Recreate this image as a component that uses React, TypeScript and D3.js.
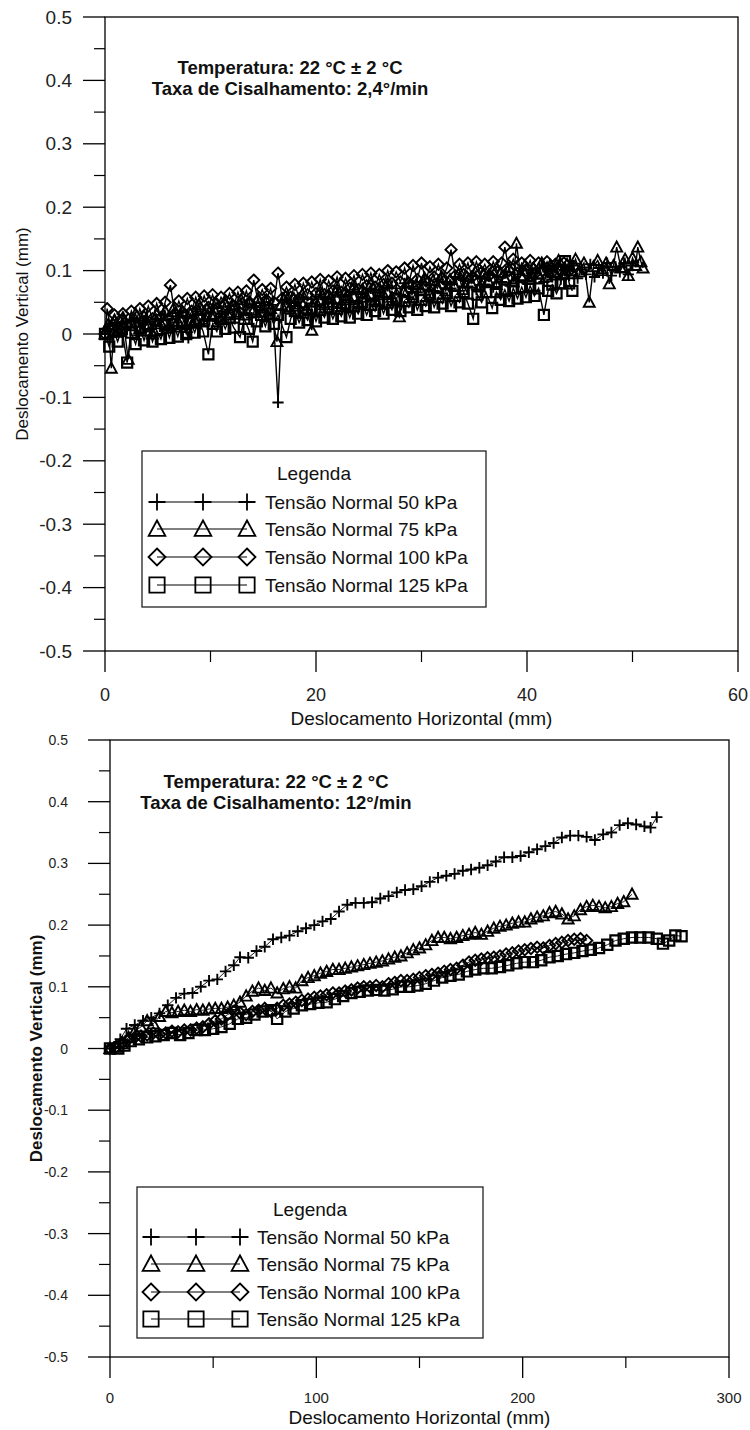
import React from "react";
import * as d3 from "d3";

type Pt = [number, number];

const seriesNames = [
  "Tensão Normal 50 kPa",
  "Tensão Normal 75 kPa",
  "Tensão Normal 100 kPa",
  "Tensão Normal 125 kPa",
];
const markerKinds = ["plus", "triangle", "diamond", "square"];
const legendTitle = "Legenda";
const yTickValues = [0.5, 0.4, 0.3, 0.2, 0.1, 0, -0.1, -0.2, -0.3, -0.4, -0.5];
const yTickLabels = ["0.5", "0.4", "0.3", "0.2", "0.1", "0", "-0.1", "-0.2", "-0.3", "-0.4", "-0.5"];
const topXTicks = [0, 20, 40, 60];
const botXTicks = [0, 100, 200, 300];
const xTitle = "Deslocamento Horizontal (mm)";
const yTitle = "Deslocamento Vertical (mm)";
const topNote = ["Temperatura: 22 °C ± 2 °C", "Taxa de Cisalhamento: 2,4°/min"];
const botNote = ["Temperatura: 22 °C ± 2 °C", "Taxa de Cisalhamento: 12°/min"];

// ---------- Top chart (2,4°/min) ----------
const top50: Pt[] = [
  [0, 0], [0.4, 0.012], [0.8, -0.004], [1.2, 0.018], [1.6, 0.003], [2.0, 0.02], [2.4, 0.006], [2.8, 0.022], [3.2, -0.002], [3.6, 0.015],
  [4.0, 0.026], [4.4, 0.008], [4.8, 0.024], [5.2, 0.012], [5.6, 0.03], [6.0, 0.01], [6.4, 0.028], [6.8, 0.018], [7.2, 0.034], [7.6, 0.012],
  [7.9, -0.006], [8.3, 0.026], [8.7, 0.036], [9.1, 0.016], [9.5, 0.032], [9.9, 0.022], [10.3, 0.04], [10.7, 0.02], [11.1, 0.036], [11.5, 0.026],
  [11.9, 0.044], [12.3, 0.024], [12.7, 0.04], [13.1, 0.03], [13.5, 0.046], [13.9, 0.026], [14.3, 0.042], [14.7, 0.034], [15.1, 0.05], [15.5, 0.03],
  [15.9, 0.046], [16.4, -0.108], [16.8, 0.038], [17.2, 0.054], [17.6, 0.036], [18.0, 0.05], [18.4, 0.04], [18.8, 0.058], [19.2, 0.038], [19.6, 0.055],
  [20.0, 0.044], [20.4, 0.062], [20.8, 0.042], [21.2, 0.058], [21.6, 0.048], [22.0, 0.066], [22.4, 0.046], [22.8, 0.062], [23.2, 0.05], [23.6, 0.07],
  [24.0, 0.048], [24.4, 0.066], [24.8, 0.056], [25.2, 0.072], [25.6, 0.052], [26.0, 0.07], [26.4, 0.058], [26.8, 0.076], [27.2, 0.056], [27.6, 0.072],
  [28.0, 0.062], [28.4, 0.08], [28.8, 0.058], [29.2, 0.075], [29.6, 0.066], [30.0, 0.082], [30.4, 0.062], [30.8, 0.078], [31.2, 0.068], [31.6, 0.086],
  [32.0, 0.064], [32.4, 0.082], [32.8, 0.072], [33.2, 0.09], [33.6, 0.068], [34.0, 0.085], [34.4, 0.075], [34.8, 0.092], [35.2, 0.07], [35.6, 0.088],
  [36.0, 0.078], [36.4, 0.095], [36.8, 0.074], [37.2, 0.09], [37.6, 0.082], [38.0, 0.098], [38.4, 0.076], [38.8, 0.094], [39.2, 0.084], [39.6, 0.1],
  [40.0, 0.08], [40.4, 0.096], [40.8, 0.088], [41.2, 0.104], [41.6, 0.082], [42.0, 0.098], [42.4, 0.09], [42.8, 0.106], [43.2, 0.086], [43.6, 0.1],
  [44.0, 0.092], [44.4, 0.108], [44.8, 0.088], [45.2, 0.102], [45.6, 0.094], [46.0, 0.11], [46.4, 0.09], [46.8, 0.104], [47.2, 0.096], [47.6, 0.112],
  [48.0, 0.092], [48.4, 0.106], [48.8, 0.098], [49.2, 0.112], [49.6, 0.094], [50.0, 0.108],
];
const top75: Pt[] = [
  [0, 0], [0.3, 0.015], [0.6, -0.054], [0.9, 0.022], [1.3, 0.004], [1.7, 0.026], [2.2, -0.04], [2.5, 0.018], [2.9, 0.032], [3.3, 0.008],
  [3.7, 0.028], [4.1, 0.014], [4.5, 0.0], [4.9, 0.03], [5.3, 0.016], [5.7, 0.036], [6.1, 0.012], [6.5, 0.04], [6.9, 0.02], [7.3, 0.036],
  [7.7, 0.01], [8.1, 0.032], [8.5, 0.022], [8.9, 0.046], [9.3, 0.02], [9.7, 0.04], [10.1, 0.028], [10.5, 0.048], [10.9, 0.024], [11.3, 0.05],
  [11.7, 0.03], [12.1, 0.046], [12.5, 0.034], [12.9, 0.054], [13.3, 0.03], [13.7, 0.05], [14.1, 0.038], [14.5, 0.056], [14.9, 0.034], [15.3, 0.052],
  [15.7, 0.04], [16.3, -0.012], [16.7, 0.046], [17.1, 0.06], [17.5, 0.04], [17.9, 0.056], [18.3, 0.044], [18.7, 0.062], [19.1, 0.04], [19.6, 0.006],
  [20.0, 0.05], [20.4, 0.066], [20.8, 0.046], [21.2, 0.062], [21.6, 0.05], [22.0, 0.07], [22.4, 0.048], [22.8, 0.066], [23.2, 0.054], [23.6, 0.074],
  [24.0, 0.05], [24.4, 0.07], [24.8, 0.058], [25.2, 0.078], [25.6, 0.054], [26.0, 0.072], [26.4, 0.062], [26.8, 0.08], [27.2, 0.058], [27.9, 0.027],
  [28.3, 0.066], [28.7, 0.082], [29.1, 0.062], [29.5, 0.078], [29.9, 0.068], [30.3, 0.088], [30.7, 0.064], [31.1, 0.084], [31.5, 0.072], [31.9, 0.09],
  [32.3, 0.068], [32.7, 0.086], [33.1, 0.076], [33.5, 0.094], [33.9, 0.07], [34.3, 0.09], [34.7, 0.08], [35.1, 0.098], [35.5, 0.074], [35.9, 0.094],
  [36.3, 0.084], [36.7, 0.1], [37.1, 0.078], [37.5, 0.096], [37.9, 0.088], [38.3, 0.104], [38.7, 0.082], [39.0, 0.143], [39.4, 0.092], [39.8, 0.108],
  [40.2, 0.086], [40.6, 0.104], [41.0, 0.094], [41.4, 0.112], [41.8, 0.09], [42.2, 0.108], [42.6, 0.098], [43.0, 0.116], [43.4, 0.094], [43.8, 0.11],
  [44.2, 0.1], [44.6, 0.118], [45.0, 0.098], [45.4, 0.112], [45.9, 0.05], [46.3, 0.106], [46.7, 0.116], [47.1, 0.1], [47.5, 0.112], [47.8, 0.079],
  [48.2, 0.108], [48.5, 0.137], [48.9, 0.104], [49.3, 0.118], [49.6, 0.092], [50.0, 0.12], [50.3, 0.108], [50.5, 0.137], [50.8, 0.114], [51.0, 0.104],
];
const top100: Pt[] = [
  [0, 0], [0.2, 0.04], [0.5, 0.012], [0.9, 0.03], [1.3, 0.008], [1.7, 0.032], [2.1, 0.014], [2.5, 0.036], [2.9, 0.016], [3.3, 0.04],
  [3.7, 0.02], [4.1, 0.044], [4.5, 0.024], [4.9, 0.048], [5.3, 0.026], [5.7, 0.05], [6.2, 0.077], [6.6, 0.032], [7.0, 0.052], [7.4, 0.034],
  [7.8, 0.056], [8.2, 0.036], [8.6, 0.058], [9.0, 0.04], [9.4, 0.06], [9.8, 0.042], [10.2, 0.062], [10.6, 0.04], [11.0, 0.058], [11.4, 0.046],
  [11.8, 0.064], [12.2, 0.044], [12.6, 0.066], [13.0, 0.048], [13.4, 0.068], [13.7, 0.05], [14.1, 0.085], [14.5, 0.052], [14.9, 0.07], [15.3, 0.054],
  [15.7, 0.072], [16.0, 0.05], [16.4, 0.096], [16.8, 0.056], [17.2, 0.074], [17.6, 0.058], [18.0, 0.078], [18.4, 0.056], [18.8, 0.08], [19.2, 0.062],
  [19.6, 0.082], [20.0, 0.064], [20.4, 0.086], [20.8, 0.062], [21.2, 0.084], [21.6, 0.068], [22.0, 0.09], [22.4, 0.066], [22.8, 0.088], [23.2, 0.072],
  [23.6, 0.092], [24.0, 0.07], [24.4, 0.094], [24.8, 0.076], [25.2, 0.096], [25.6, 0.074], [26.0, 0.094], [26.4, 0.078], [26.8, 0.1], [27.2, 0.08],
  [27.6, 0.098], [28.0, 0.082], [28.4, 0.104], [28.8, 0.08], [29.2, 0.108], [29.6, 0.086], [30.0, 0.112], [30.4, 0.084], [30.8, 0.106], [31.2, 0.09],
  [31.6, 0.11], [32.0, 0.088], [32.4, 0.104], [32.8, 0.133], [33.2, 0.092], [33.6, 0.11], [34.0, 0.094], [34.4, 0.112], [34.8, 0.09], [35.2, 0.114],
  [35.6, 0.096], [36.0, 0.11], [36.4, 0.092], [36.8, 0.114], [37.2, 0.098], [37.6, 0.112], [37.9, 0.137], [38.3, 0.1], [38.7, 0.118], [39.1, 0.096],
  [39.5, 0.112], [39.9, 0.1], [40.3, 0.116], [40.7, 0.094], [41.1, 0.112], [41.5, 0.1], [41.9, 0.114], [42.3, 0.096], [42.7, 0.11], [43.1, 0.1],
  [43.5, 0.112], [43.9, 0.098], [44.4, 0.106],
];
const top125: Pt[] = [
  [0, 0], [0.4, -0.02], [0.8, 0.006], [1.2, -0.012], [1.6, 0.008], [2.1, -0.045], [2.5, 0.002], [2.9, -0.016], [3.3, 0.01], [3.7, -0.01],
  [4.1, 0.012], [4.5, -0.012], [4.9, 0.006], [5.3, -0.008], [5.7, 0.014], [6.1, -0.006], [6.5, 0.016], [6.9, -0.004], [7.3, 0.018], [7.7, 0.0],
  [8.1, 0.02], [8.5, 0.002], [8.9, 0.022], [9.3, 0.004], [9.8, -0.032], [10.2, 0.016], [10.6, 0.004], [11.0, 0.024], [11.4, 0.008], [11.8, 0.026],
  [12.2, 0.01], [12.8, -0.005], [13.2, 0.024], [13.6, 0.008], [14.0, -0.012], [14.4, 0.02], [14.8, 0.03], [15.2, 0.012], [15.6, 0.032], [16.0, 0.016],
  [16.4, 0.03], [17.2, -0.005], [17.6, 0.024], [18.0, 0.036], [18.4, 0.018], [18.8, 0.034], [19.2, 0.022], [19.6, 0.04], [20.0, 0.02], [20.4, 0.038],
  [20.8, 0.026], [21.2, 0.042], [21.6, 0.024], [22.0, 0.04], [22.4, 0.028], [22.8, 0.046], [23.2, 0.026], [23.6, 0.044], [24.0, 0.032], [24.4, 0.05],
  [24.8, 0.03], [25.2, 0.046], [25.6, 0.036], [26.0, 0.052], [26.4, 0.032], [26.8, 0.05], [27.2, 0.038], [27.6, 0.056], [28.0, 0.036], [28.4, 0.052],
  [28.8, 0.042], [29.2, 0.058], [29.6, 0.038], [30.0, 0.054], [30.4, 0.044], [30.8, 0.062], [31.2, 0.042], [31.6, 0.058], [32.0, 0.048], [32.4, 0.064],
  [32.8, 0.044], [33.2, 0.06], [33.6, 0.05], [34.0, 0.066], [34.4, 0.048], [34.9, 0.024], [35.3, 0.062], [35.7, 0.05], [36.1, 0.066], [36.7, 0.041],
  [37.1, 0.066], [37.5, 0.054], [37.9, 0.07], [38.3, 0.052], [38.7, 0.072], [39.1, 0.056], [39.5, 0.074], [39.9, 0.058], [40.3, 0.076], [40.7, 0.06],
  [41.1, 0.072], [41.6, 0.03], [42.0, 0.068], [42.4, 0.078], [42.8, 0.064], [43.2, 0.08], [43.6, 0.115], [44.0, 0.08], [44.3, 0.068],
];

// ---------- Bottom chart (12°/min) ----------
const bot50: Pt[] = [
  [0, 0], [2, 0.003], [5, 0.015], [8, 0.032], [12, 0.038], [16, 0.045], [20, 0.05], [24, 0.057], [28, 0.07],
  [32, 0.082], [36, 0.089], [40, 0.09], [44, 0.1], [48, 0.11], [52, 0.112], [56, 0.125], [60, 0.135], [63, 0.148],
  [67, 0.147], [71, 0.158], [75, 0.165], [79, 0.177], [83, 0.18], [87, 0.183], [91, 0.19], [95, 0.195], [99, 0.2],
  [103, 0.206], [107, 0.21], [111, 0.222], [115, 0.233], [119, 0.236], [123, 0.236], [127, 0.237], [131, 0.243],
  [135, 0.247], [139, 0.253], [143, 0.257], [147, 0.258], [151, 0.263], [155, 0.27], [159, 0.277], [163, 0.28],
  [167, 0.283], [171, 0.288], [175, 0.29], [179, 0.293], [183, 0.297], [187, 0.303], [191, 0.31], [195, 0.31],
  [199, 0.312], [203, 0.318], [207, 0.323], [211, 0.328], [215, 0.333], [219, 0.342], [223, 0.345], [227, 0.345],
  [231, 0.343], [235, 0.338], [239, 0.347], [243, 0.35], [247, 0.362], [251, 0.365], [255, 0.363], [259, 0.36],
  [262, 0.358], [265, 0.375],
];
const bot75: Pt[] = [
  [0, 0], [3, 0.002], [6, 0.008], [9, 0.018], [12, 0.028], [15, 0.035], [18, 0.045], [21, 0.04], [24, 0.052],
  [27, 0.06], [30, 0.058], [33, 0.06], [36, 0.062], [39, 0.06], [42, 0.063], [45, 0.062], [48, 0.064], [51, 0.065],
  [54, 0.065], [57, 0.067], [60, 0.07], [63, 0.075], [66, 0.085], [69, 0.093], [72, 0.098], [75, 0.094], [78, 0.098],
  [81, 0.09], [84, 0.097], [87, 0.1], [90, 0.098], [93, 0.11], [96, 0.115], [99, 0.118], [102, 0.122], [105, 0.125],
  [108, 0.128], [111, 0.128], [114, 0.13], [117, 0.132], [120, 0.134], [123, 0.136], [126, 0.138], [129, 0.14],
  [132, 0.142], [135, 0.145], [138, 0.148], [141, 0.15], [144, 0.155], [147, 0.16], [150, 0.163], [153, 0.168],
  [156, 0.175], [159, 0.18], [162, 0.18], [165, 0.178], [168, 0.18], [171, 0.183], [174, 0.185], [177, 0.188],
  [180, 0.185], [183, 0.19], [186, 0.195], [189, 0.198], [192, 0.2], [195, 0.203], [198, 0.205], [201, 0.205],
  [204, 0.21], [207, 0.213], [210, 0.215], [213, 0.22], [216, 0.222], [219, 0.218], [222, 0.21], [225, 0.215],
  [228, 0.225], [231, 0.23], [234, 0.232], [237, 0.23], [240, 0.228], [243, 0.23], [246, 0.235], [249, 0.238],
  [253, 0.25],
];
const bot100: Pt[] = [
  [0, 0], [3, 0.003], [6, 0.01], [9, 0.015], [12, 0.018], [15, 0.02], [18, 0.022], [21, 0.025], [24, 0.023],
  [27, 0.025], [30, 0.028], [33, 0.027], [36, 0.03], [39, 0.03], [42, 0.033], [45, 0.035], [48, 0.04], [51, 0.045],
  [54, 0.048], [57, 0.055], [60, 0.06], [63, 0.058], [66, 0.055], [69, 0.06], [72, 0.062], [75, 0.065], [78, 0.06],
  [81, 0.065], [84, 0.07], [87, 0.072], [90, 0.075], [93, 0.078], [96, 0.08], [99, 0.083], [102, 0.085], [105, 0.087],
  [108, 0.09], [111, 0.09], [114, 0.093], [117, 0.095], [120, 0.098], [123, 0.1], [126, 0.1], [129, 0.102],
  [132, 0.1], [135, 0.105], [138, 0.107], [141, 0.11], [144, 0.11], [147, 0.112], [150, 0.115], [153, 0.118],
  [156, 0.12], [159, 0.122], [162, 0.125], [165, 0.128], [168, 0.13], [171, 0.135], [174, 0.14], [177, 0.143],
  [180, 0.145], [183, 0.147], [186, 0.148], [189, 0.15], [192, 0.153], [195, 0.155], [198, 0.158], [201, 0.16],
  [204, 0.162], [207, 0.164], [210, 0.163], [213, 0.167], [216, 0.17], [219, 0.172], [222, 0.175], [225, 0.177],
  [228, 0.178], [231, 0.175],
];
const bot125: Pt[] = [
  [0, 0], [4, 0.0], [7, 0.005], [10, 0.012], [14, 0.015], [18, 0.018], [22, 0.02], [26, 0.022], [30, 0.025],
  [34, 0.022], [38, 0.025], [42, 0.03], [46, 0.03], [50, 0.032], [54, 0.035], [58, 0.04], [62, 0.048], [66, 0.05],
  [70, 0.055], [74, 0.06], [78, 0.062], [81, 0.048], [85, 0.06], [89, 0.065], [93, 0.07], [97, 0.072], [101, 0.074],
  [105, 0.075], [109, 0.08], [113, 0.085], [117, 0.09], [121, 0.092], [125, 0.094], [129, 0.095], [133, 0.094],
  [137, 0.096], [141, 0.1], [145, 0.1], [149, 0.102], [153, 0.105], [157, 0.11], [161, 0.115], [165, 0.118],
  [169, 0.12], [173, 0.125], [177, 0.128], [181, 0.13], [185, 0.13], [189, 0.132], [193, 0.135], [197, 0.138],
  [201, 0.14], [205, 0.14], [209, 0.143], [213, 0.148], [217, 0.15], [221, 0.153], [225, 0.155], [229, 0.158],
  [233, 0.16], [237, 0.163], [241, 0.168], [245, 0.175], [249, 0.178], [253, 0.18], [257, 0.18], [261, 0.18],
  [265, 0.178], [268, 0.17], [271, 0.175], [274, 0.183], [277, 0.182],
];

const topSeries = [top50, top75, top100, top125];
const botSeries = [bot50, bot75, bot100, bot125];

const SANS = "'Liberation Sans', Arial, Helvetica, sans-serif";
const NARROW = "'Liberation Sans Narrow', 'Arial Narrow', 'Liberation Sans', Arial, sans-serif";

function markerPath(kind: string, s: number): string {
  switch (kind) {
    case "plus":
      return `M${-s},0H${s}M0,${-s}V${s}`;
    case "triangle":
      return `M0,${-s}L${s * 0.98},${s * 0.8}L${-s * 0.98},${s * 0.8}Z`;
    case "diamond":
      return `M0,${-s}L${s},0L0,${s}L${-s},0Z`;
    default:
      return `M${-s * 0.9},${-s * 0.9}H${s * 0.9}V${s * 0.9}H${-s * 0.9}Z`;
  }
}

type PanelCfg = {
  left: number; right: number; top: number; bottom: number;
  xMax: number; xTicks: number[];
  xLabelFont: string; xLabelSize: number; xLabelY: number;
  xTitleY: number; xTitleSize: number;
  yLabelFont: string; yLabelSize: number; yLabelX: number;
  yTitleX: number; yTitleSize: number; yTitleWeight: string;
  note: string[]; noteX: number; noteY: number[]; noteSize: number;
  series: Pt[][]; mSize: number; mStroke: number; lineW: number;
  leg: { x0: number; x1: number; y0: number; y1: number; titleX: number; titleY: number; rows: number[]; sym: number[]; textX: number; size: number };
};

function Panel({ c }: { c: PanelCfg }) {
  const x = d3.scaleLinear().domain([0, c.xMax]).range([c.left, c.right]);
  const y = d3.scaleLinear().domain([-0.5, 0.5]).range([c.bottom, c.top]);
  const line = d3.line<Pt>().x((d) => x(d[0])).y((d) => y(d[1]));
  const xMinor = c.xTicks.slice(1).map((t, i) => (t + c.xTicks[i]) / 2);
  const yMinor = yTickValues.slice(1).map((t, i) => (t + yTickValues[i]) / 2);
  const midX = (c.left + c.right) / 2;
  const midY = (c.top + c.bottom) / 2;
  return (
    <g>
      <rect x={c.left} y={c.top} width={c.right - c.left} height={c.bottom - c.top} fill="none" stroke="#000" strokeWidth={1.3} />
      {yTickValues.map((t, i) => (
        <g key={"yt" + i}>
          <line x1={c.left - 22} x2={c.left} y1={y(t)} y2={y(t)} stroke="#000" strokeWidth={1.3} />
          <text x={c.yLabelX} y={y(t)} textAnchor="end" dominantBaseline="central" fontFamily={c.yLabelFont} fontSize={c.yLabelSize} fill="#222">
            {yTickLabels[i]}
          </text>
        </g>
      ))}
      {yMinor.map((t, i) => (
        <line key={"ym" + i} x1={c.left - 11} x2={c.left} y1={y(t)} y2={y(t)} stroke="#000" strokeWidth={1.2} />
      ))}
      {c.xTicks.map((t, i) => (
        <g key={"xt" + i}>
          <line x1={x(t)} x2={x(t)} y1={c.bottom} y2={c.bottom + 21} stroke="#000" strokeWidth={1.3} />
          <text x={x(t)} y={c.xLabelY} textAnchor="middle" dominantBaseline="central" fontFamily={c.xLabelFont} fontSize={c.xLabelSize} fill="#222">
            {String(t)}
          </text>
        </g>
      ))}
      {xMinor.map((t, i) => (
        <line key={"xm" + i} x1={x(t)} x2={x(t)} y1={c.bottom} y2={c.bottom + 11} stroke="#000" strokeWidth={1.2} />
      ))}
      <text x={midX} y={c.xTitleY} textAnchor="middle" dominantBaseline="central" fontFamily={SANS} fontSize={c.xTitleSize} fill="#111">
        {xTitle}
      </text>
      <text transform={`translate(${c.yTitleX},${midY}) rotate(-90)`} textAnchor="middle" dominantBaseline="central" fontFamily={SANS} fontSize={c.yTitleSize} fontWeight={c.yTitleWeight} fill="#111">
        {yTitle}
      </text>
      {c.note.map((s, i) => (
        <text key={"n" + i} x={c.noteX} y={c.noteY[i]} textAnchor="middle" fontFamily={SANS} fontSize={c.noteSize} fontWeight="bold" fill="#111">
          {s}
        </text>
      ))}
      {c.series.map((pts, si) => (
        <g key={"s" + si}>
          <path d={line(pts) || ""} fill="none" stroke="#000" strokeWidth={c.lineW} />
          {pts.map((p, pi) => (
            <path key={pi} d={markerPath(markerKinds[si], c.mSize)} transform={`translate(${x(p[0])},${y(p[1])})`} fill="none" stroke="#000" strokeWidth={markerKinds[si] === "square" ? c.mStroke + 0.3 : c.mStroke} />
          ))}
        </g>
      ))}
      <rect x={c.leg.x0} y={c.leg.y0} width={c.leg.x1 - c.leg.x0} height={c.leg.y1 - c.leg.y0} fill="#fff" stroke="#222" strokeWidth={1.3} />
      <text x={c.leg.titleX} y={c.leg.titleY} textAnchor="middle" dominantBaseline="central" fontFamily={SANS} fontSize={c.leg.size} fill="#111">
        {legendTitle}
      </text>
      {seriesNames.map((name, i) => (
        <g key={"l" + i}>
          <line x1={c.leg.sym[0]} x2={c.leg.sym[2]} y1={c.leg.rows[i]} y2={c.leg.rows[i]} stroke="#000" strokeWidth={1.1} />
          {c.leg.sym.map((sx, k) => (
            <path key={k} d={markerPath(markerKinds[i], 8.5)} transform={`translate(${sx},${c.leg.rows[i]})`} fill="none" stroke="#000" strokeWidth={1.8} />
          ))}
          <text x={c.leg.textX} y={c.leg.rows[i]} dominantBaseline="central" fontFamily={SANS} fontSize={c.leg.size} fill="#111">
            {name}
          </text>
        </g>
      ))}
    </g>
  );
}

const topCfg: PanelCfg = {
  left: 105, right: 738, top: 17, bottom: 651,
  xMax: 60, xTicks: topXTicks,
  xLabelFont: SANS, xLabelSize: 18, xLabelY: 695,
  xTitleY: 718, xTitleSize: 19,
  yLabelFont: SANS, yLabelSize: 19, yLabelX: 72,
  yTitleX: 22, yTitleSize: 17, yTitleWeight: "normal",
  note: topNote, noteX: 290, noteY: [74, 95], noteSize: 18.5,
  series: topSeries, mSize: 5.6, mStroke: 1.9, lineW: 1.4,
  leg: { x0: 142, x1: 486, y0: 451, y1: 607, titleX: 314, titleY: 473, rows: [502, 529, 557, 585], sym: [157, 203, 247], textX: 265, size: 19 },
};

const botCfg: PanelCfg = {
  left: 110, right: 729, top: 740, bottom: 1357,
  xMax: 300, xTicks: botXTicks,
  xLabelFont: NARROW, xLabelSize: 15, xLabelY: 1397,
  xTitleY: 1417, xTitleSize: 19,
  yLabelFont: NARROW, yLabelSize: 14, yLabelX: 68,
  yTitleX: 36, yTitleSize: 17, yTitleWeight: "bold",
  note: botNote, noteX: 276, noteY: [788, 809], noteSize: 18.5,
  series: botSeries, mSize: 5.7, mStroke: 1.9, lineW: 0.9,
  leg: { x0: 137, x1: 483, y0: 1187, y1: 1338, titleX: 310, titleY: 1209, rows: [1237, 1264, 1292, 1319], sym: [151, 196, 240], textX: 257, size: 19 },
};

export default function App() {
  return (
    <svg width={750} height={1430} viewBox="0 0 750 1430" style={{ display: "block", position: "absolute", left: 0, top: 0, background: "#fff" }}>
      <rect x={0} y={0} width={750} height={1430} fill="#fff" />
      <Panel c={topCfg} />
      <Panel c={botCfg} />
    </svg>
  );
}
